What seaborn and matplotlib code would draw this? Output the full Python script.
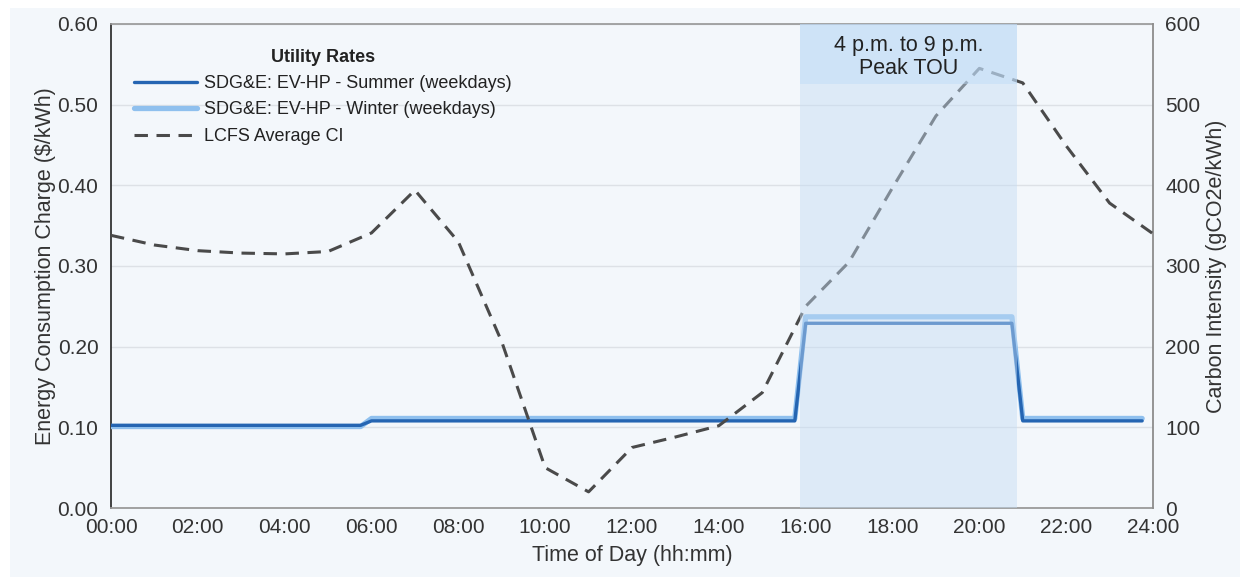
import numpy as np
import pandas as pd
import matplotlib
matplotlib.use("Agg")
import matplotlib.pyplot as plt
from matplotlib.patches import Rectangle
from matplotlib.ticker import FormatStrFormatter
import seaborn as sns

# Hourly LCFS average carbon intensity of grid electricity (gCO2e/kWh)
ci_hours = list(range(25))
ci_values = [338, 326, 319, 316, 315, 318, 341, 394, 330, 206, 50, 20, 75,
             88, 102, 143, 250, 305, 397, 486, 545, 527, 449, 378, 340]

# SDG&E EV-HP weekday time-of-use periods (start hour) and energy charges ($/kWh)
period_starts = [0, 6, 16, 21]
summer_rates = [0.1025, 0.108, 0.229, 0.108]
winter_rates = [0.101, 0.111, 0.237, 0.111]

# Peak TOU window shading (hours)
peak_start, peak_end = 15.875, 20.875
peak_label = "4 p.m. to 9 p.m.\nPeak TOU"

x_ticks = list(range(0, 25, 2))
x_tick_labels = [f"{h:02d}:00" for h in x_ticks]

# Expand the tariff periods onto the 15-minute interval schedule
slots = np.arange(96) / 4
period_idx = np.searchsorted(period_starts, slots, side="right") - 1
rates = pd.DataFrame({
    "time": slots,
    "summer": np.array(summer_rates)[period_idx],
    "winter": np.array(winter_rates)[period_idx],
})
ci = pd.DataFrame({"time": ci_hours, "ci": ci_values})

sns.set_theme(style="white")
plt.rcParams["font.family"] = ["Liberation Sans", "DejaVu Sans"]

PANEL = "#f3f7fb"
W, H = 1248, 583
fig, ax1 = plt.subplots(figsize=(W / 100, H / 100), dpi=100)
fig.patch.set_facecolor("white")
fig.add_artist(Rectangle((10 / W, 1 - 577 / H), 1230 / W, 569 / H,
                         transform=fig.transFigure, facecolor=PANEL,
                         edgecolor="none", zorder=-10))
fig.subplots_adjust(left=111 / W, right=1153 / W, top=1 - 24 / H, bottom=1 - 508 / H)
ax1.set_facecolor(PANEL)
ax2 = ax1.twinx()

sns.lineplot(data=rates, x="time", y="winter", ax=ax1, color="#8fc0ee", lw=3.8,
             label="SDG&E: EV-HP - Winter (weekdays)", legend=False, zorder=3)
sns.lineplot(data=rates, x="time", y="summer", ax=ax1, color="#2565b2", lw=2.4,
             label="SDG&E: EV-HP - Summer (weekdays)", legend=False, zorder=4)
sns.lineplot(data=ci, x="time", y="ci", ax=ax2, color="#4a4a4a", lw=2.2,
             dashes=False, label="LCFS Average CI", legend=False, zorder=3)
ax2.lines[0].set_dashes((4.4, 2.8))

# Peak window overlay (drawn above the lines so they show through faintly)
ax2.axvspan(peak_start, peak_end, color="#c4dcf4", alpha=0.45, lw=0, zorder=5)
ax2.axvspan(peak_start, peak_end, ymin=0.525 / 0.6, ymax=1, color="#bddbf8",
            alpha=0.45, lw=0, zorder=5)
ax2.text((peak_start + peak_end) / 2, 559, peak_label, ha="center", va="center",
         fontsize=15.5, color="#222222", linespacing=1.15, zorder=6)

# Axes, ticks and grid
ax1.set_xlim(0, 24)
ax1.set_ylim(0, 0.6)
ax2.set_ylim(0, 600)
ax1.set_xticks(x_ticks)
ax1.set_xticklabels(x_tick_labels)
ax1.set_yticks(np.arange(0, 0.61, 0.1))
ax1.yaxis.set_major_formatter(FormatStrFormatter("%.2f"))
ax2.set_yticks(range(0, 601, 100))
ax1.yaxis.grid(True, color="#dde1e6", lw=1)
ax1.xaxis.grid(False)
ax2.grid(False)
ax1.set_axisbelow(True)

for ax in (ax1, ax2):
    ax.tick_params(length=0, labelsize=15, labelcolor="#333333")
ax1.tick_params(axis="y", pad=9)
ax1.tick_params(axis="x", pad=7)
ax2.tick_params(axis="y", pad=9)

ax1.set_xlabel("Time of Day (hh:mm)", fontsize=15.5, color="#333333", labelpad=6)
ax1.set_ylabel("Energy Consumption Charge ($/kWh)", fontsize=15.5, color="#333333", labelpad=1)
ax2.set_ylabel("Carbon Intensity (gCO2e/kWh)", fontsize=15.5, color="#333333", labelpad=4)

for side in ("top", "right", "bottom", "left"):
    ax1.spines[side].set_visible(True)
    ax2.spines[side].set_visible(False)
ax1.spines["left"].set_color("#333333")
ax1.spines["left"].set_linewidth(1.3)
ax1.spines["bottom"].set_color("#9a9a9a")
ax1.spines["bottom"].set_linewidth(1.3)
ax1.spines["top"].set_color("#9a9a9a")
ax1.spines["right"].set_visible(False)
ax2.spines["right"].set_visible(True)
ax2.spines["right"].set_color("#8c8c8c")
ax2.spines["right"].set_linewidth(1.3)

# Legend
h1, l1 = ax1.get_legend_handles_labels()
h2, l2 = ax2.get_legend_handles_labels()
order = [1, 0]
handles = [h1[i] for i in order] + h2
labels = [l1[i] for i in order] + l2
leg = ax2.legend(handles, labels, title="Utility Rates", loc="upper left",
                 bbox_to_anchor=(0.022, 0.949), frameon=False, fontsize=13,
                 title_fontsize=13, handlelength=3.5, handletextpad=0.4,
                 labelspacing=0.52, borderaxespad=0, borderpad=0)
leg.get_title().set_fontweight("bold")
leg.get_title().set_color("#222222")
for t in leg.get_texts():
    t.set_color("#222222")
leg.set_zorder(7)

fig.savefig("out.png", dpi=100, facecolor=fig.get_facecolor())
